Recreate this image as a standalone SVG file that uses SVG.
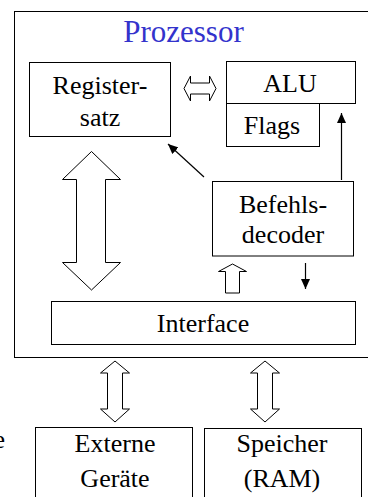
<svg xmlns="http://www.w3.org/2000/svg" width="368" height="497" viewBox="0 0 368 497">
  <style>
    .box { fill: #fff; stroke: #000; stroke-width: 1; }
    .frame { fill: none; stroke: #000; stroke-width: 1; }
    .t { font-family: "Liberation Serif", "Times New Roman", serif; font-size: 26px; fill: #000; text-anchor: middle; }
    .title { font-family: "Liberation Serif", "Times New Roman", serif; font-size: 31px; fill: #3333cc; text-anchor: middle; }
    .hollow { fill: #fff; stroke: #000; stroke-width: 1; stroke-linejoin: miter; }
    .line { stroke: #000; stroke-width: 1.2; fill: none; }
  </style>
  <defs>
    <marker id="ah" markerUnits="userSpaceOnUse" markerWidth="10" markerHeight="9" refX="10" refY="4.5" orient="auto">
      <path d="M0,0 L10,4.5 L0,9 z" fill="#000"/>
    </marker>
  </defs>
  <rect width="368" height="497" fill="#fff"/>

  <g id="prozessor">
    <rect class="frame" x="14.5" y="11.5" width="362" height="346"/>
    <text class="title" x="183.5" y="42">Prozessor</text>
  </g>

  <g id="registersatz">
    <rect class="box" x="29.5" y="62.5" width="141" height="74"/>
    <text class="t" x="100" y="94">Register-</text>
    <text class="t" x="100" y="126">satz</text>
  </g>

  <g id="alu">
    <rect class="box" x="226.5" y="61.5" width="129" height="42"/>
    <text class="t" x="290" y="92">ALU</text>
  </g>

  <g id="flags">
    <rect class="box" x="226.5" y="103.5" width="93" height="43"/>
    <text class="t" x="272" y="134">Flags</text>
  </g>

  <g id="befehlsdecoder">
    <rect class="box" x="212.5" y="181.5" width="141" height="74.5"/>
    <text class="t" x="283" y="213">Befehls-</text>
    <text class="t" x="283" y="243">decoder</text>
  </g>

  <g id="interface">
    <rect class="box" x="51.5" y="301.5" width="304" height="43"/>
    <text class="t" x="203" y="332">Interface</text>
  </g>

  <g id="externe">
    <rect class="box" x="35.5" y="427.5" width="157" height="80"/>
    <text class="t" x="115" y="452">Externe</text>
    <text class="t" x="115" y="487">Geräte</text>
  </g>

  <g id="speicher">
    <rect class="box" x="204.5" y="428.5" width="157" height="80"/>
    <text class="t" x="282" y="452">Speicher</text>
    <text class="t" x="282" y="487">(RAM)</text>
  </g>

  <g id="cut-label">
    <text class="t" x="5" y="448" style="text-anchor:end">e</text>
  </g>

  <g id="connectors">
    <polygon class="hollow" points="184,88.5 190.5,76 190.5,83 209.5,83 209.5,76 216,88.5 209.5,101 209.5,94 190.5,94 190.5,101"/>
    <polygon class="hollow" points="91.5,151.5 120.5,179.5 105.5,179.5 105.5,262.5 120.5,262.5 91.5,290 62.5,262.5 76.5,262.5 76.5,179.5 62.5,179.5"/>
    <polygon class="hollow" points="232.5,264 246.5,271.5 239.5,271.5 239.5,293 225.5,293 225.5,271.5 218.5,271.5"/>
    <polygon class="hollow" points="115,361 129.5,373 122.5,373 122.5,409 129.5,409 115,422 100.5,409 107.5,409 107.5,373 100.5,373"/>
    <polygon class="hollow" points="265,361 279.5,373 272.5,373 272.5,409 279.5,409 265,422 250.5,409 257.5,409 257.5,373 250.5,373"/>
    <line class="line" x1="204" y1="177" x2="168" y2="144" marker-end="url(#ah)"/>
    <line class="line" x1="341.5" y1="180" x2="341.5" y2="113" marker-end="url(#ah)"/>
    <line class="line" x1="305.5" y1="263" x2="305.5" y2="289" marker-end="url(#ah)"/>
  </g>
</svg>
